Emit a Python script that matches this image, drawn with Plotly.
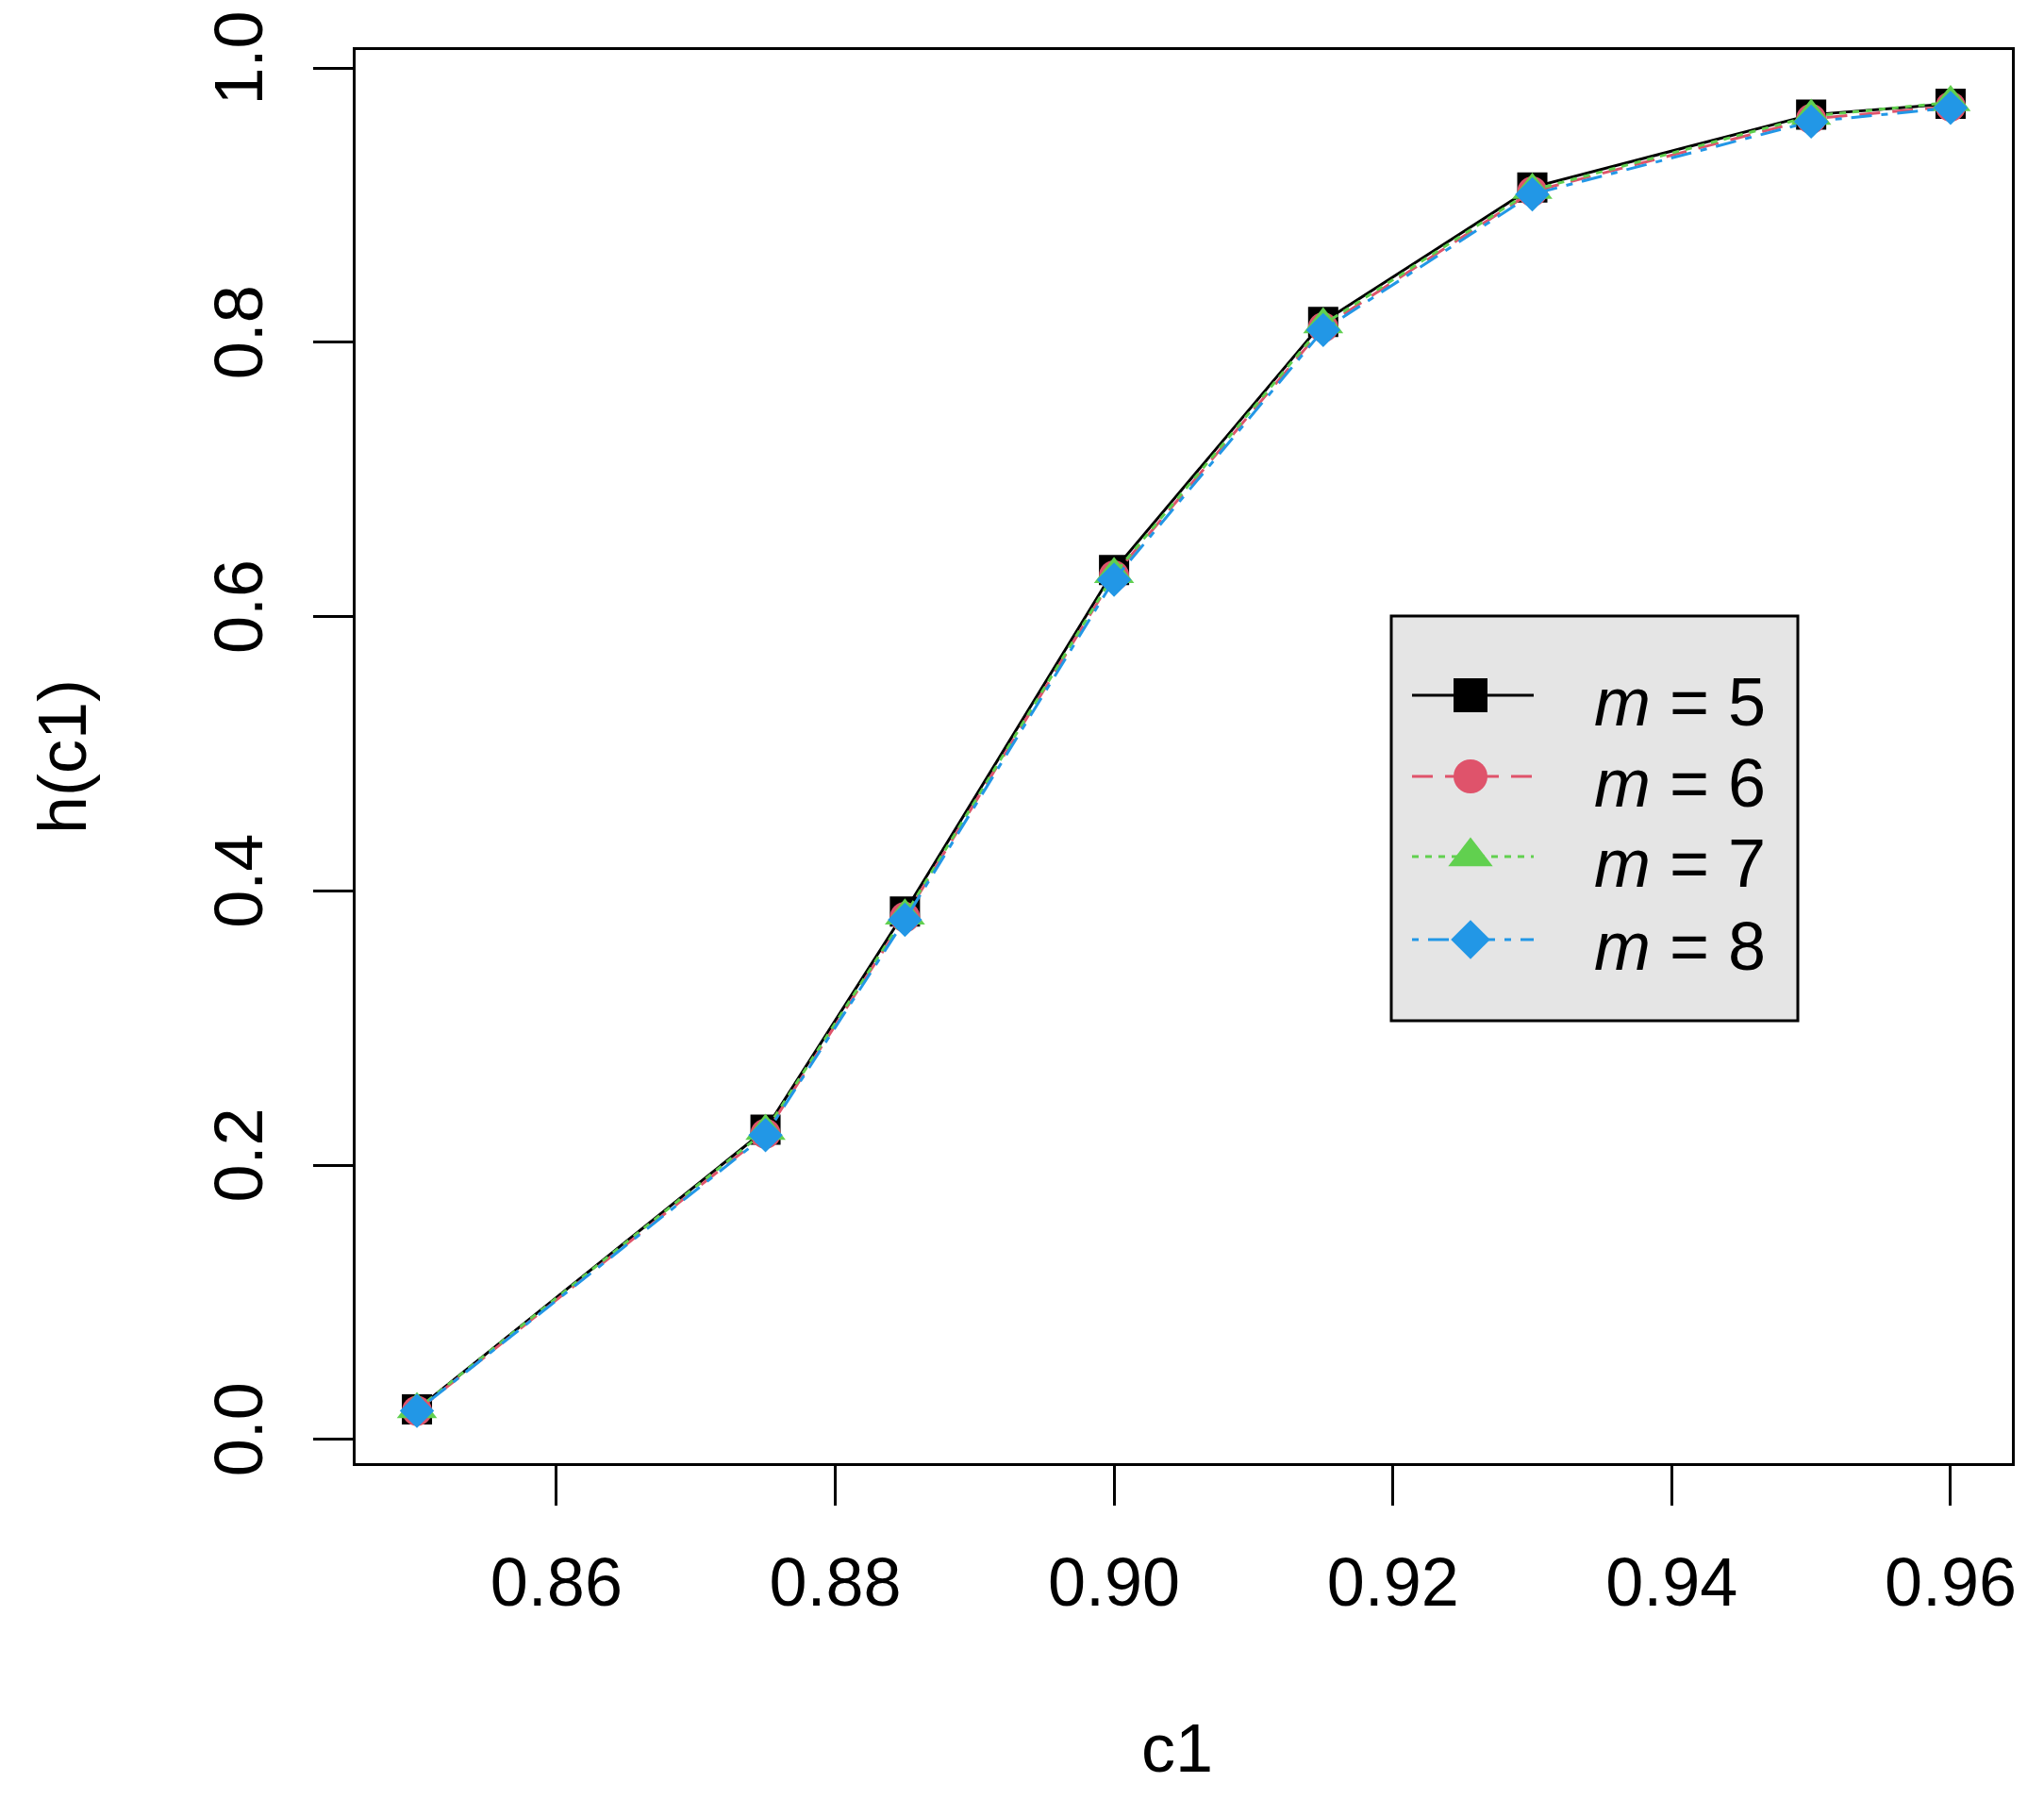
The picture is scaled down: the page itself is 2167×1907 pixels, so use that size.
import plotly.graph_objects as go

# ---- data ----
c1 = [0.85, 0.875, 0.885, 0.90, 0.915, 0.93, 0.95, 0.96]
h_m5 = [0.022, 0.226, 0.385, 0.634, 0.815, 0.913, 0.966, 0.974]
h_m6 = [0.021, 0.223, 0.381, 0.630, 0.811, 0.910, 0.963, 0.972]
h_m7 = [0.022, 0.225, 0.382, 0.631, 0.813, 0.911, 0.965, 0.975]
h_m8 = [0.021, 0.222, 0.379, 0.627, 0.809, 0.908, 0.961, 0.971]
series_names = ["m = 5", "m = 6", "m = 7", "m = 8"]
series_labels = ["<i>m</i> = 5", "<i>m</i> = 6", "<i>m</i> = 7", "<i>m</i> = 8"]
x_tickvals = [0.86, 0.88, 0.90, 0.92, 0.94, 0.96]
x_ticktext = ["0.86", "0.88", "0.90", "0.92", "0.94", "0.96"]
y_tickvals = [0.0, 0.2, 0.4, 0.6, 0.8, 1.0]
y_ticktext = ["0.0", "0.2", "0.4", "0.6", "0.8", "1.0"]

# ---- styles ----
OFF = 8  # page body margin
W, H = 2167 - OFF, 1907 - OFF
# plot area in page pixel coordinates
L, R, T, B = 377, 2133, 53, 1551
FONT = "Liberation Sans, Arial, sans-serif"
FS = 72
colors = ["#000000", "#DF536B", "#61D04F", "#2297E6"]
dashes = ["solid", "22px,13px", "7px,7px", "7px,10px,22px,10px"]
symbols = ["square", "circle", "triangle-up", "diamond"]
msizes = [32, 32, 37, 28]
LW = 3

def fx(px):
    return (px - L) / (R - L)

def fy(py):
    return (B - py) / (B - T)

fig = go.Figure()
ys = [h_m5, h_m6, h_m7, h_m8]
for i in range(4):
    fig.add_trace(go.Scatter(
        x=c1, y=ys[i], mode="lines+markers", name=series_names[i],
        line=dict(color=colors[i], width=LW, dash=dashes[i]),
        marker=dict(symbol=symbols[i], size=msizes[i], color=colors[i], line=dict(width=0)),
        showlegend=False,
    ))

# ---- custom legend (R style) ----
leg_x0, leg_x1, leg_y0, leg_y1 = 1475, 1906, 653, 1082
row_y = [737, 823, 908, 996]
line_x0, line_x1, mark_x = 1497, 1626, 1559
text_x = 1688

shapes = [dict(type="rect", xref="paper", yref="paper",
               x0=fx(leg_x0), x1=fx(leg_x1), y0=fy(leg_y1), y1=fy(leg_y0),
               fillcolor="#E5E5E5", line=dict(color="black", width=3), layer="below")]

annotations = []
for i in range(4):
    fig.add_trace(go.Scatter(
        x=[fx(line_x0), fx(line_x1)], y=[fy(row_y[i])] * 2, mode="lines",
        line=dict(color=colors[i], width=LW, dash=dashes[i]),
        xaxis="x2", yaxis="y2", showlegend=False, hoverinfo="skip"))
    fig.add_trace(go.Scatter(
        x=[fx(mark_x)], y=[fy(row_y[i])], mode="markers",
        marker=dict(symbol=symbols[i], size=msizes[i] + 4, color=colors[i], line=dict(width=0)),
        xaxis="x2", yaxis="y2", showlegend=False, hoverinfo="skip"))
    annotations.append(dict(
        text=series_labels[i], xref="paper", yref="paper",
        x=fx(text_x), y=fy(row_y[i] + 7), xanchor="left", yanchor="middle",
        showarrow=False, font=dict(family=FONT, size=FS, color="black")))

# axis titles
annotations.append(dict(text="c1", xref="paper", yref="paper", x=fx(1248), y=fy(1853),
                        xanchor="center", yanchor="middle", showarrow=False,
                        font=dict(family=FONT, size=FS, color="black")))
annotations.append(dict(text="h(c1)", xref="paper", yref="paper", x=fx(66), y=fy(802),
                        xanchor="center", yanchor="middle", showarrow=False, textangle=-90,
                        font=dict(family=FONT, size=FS, color="black")))

axis_common = dict(showline=True, linecolor="black", linewidth=3, mirror=True,
                   ticks="outside", ticklen=42, tickwidth=3, tickcolor="black",
                   showgrid=False, zeroline=False, automargin=False,
                   tickfont=dict(family=FONT, size=FS, color="black"))

fig.update_layout(
    width=W, height=H,
    margin=dict(l=L - OFF, r=W + OFF - R, t=T - OFF, b=H + OFF - B, pad=0, autoexpand=False),
    paper_bgcolor="white", plot_bgcolor="white",
    xaxis=dict(range=[0.8456, 0.9644], tickmode="array", tickvals=x_tickvals,
               ticktext=x_ticktext, ticklabelstandoff=20, **axis_common),
    yaxis=dict(range=[-0.0172, 1.0132], tickmode="array", tickvals=y_tickvals,
               ticktext=y_ticktext, tickangle=-90, ticklabelstandoff=25, **axis_common),
    xaxis2=dict(overlaying="x", range=[0, 1], visible=False, fixedrange=True),
    yaxis2=dict(overlaying="y", range=[0, 1], visible=False, fixedrange=True),
    shapes=shapes, annotations=annotations, showlegend=False,
)

fig.write_html("out.html")
